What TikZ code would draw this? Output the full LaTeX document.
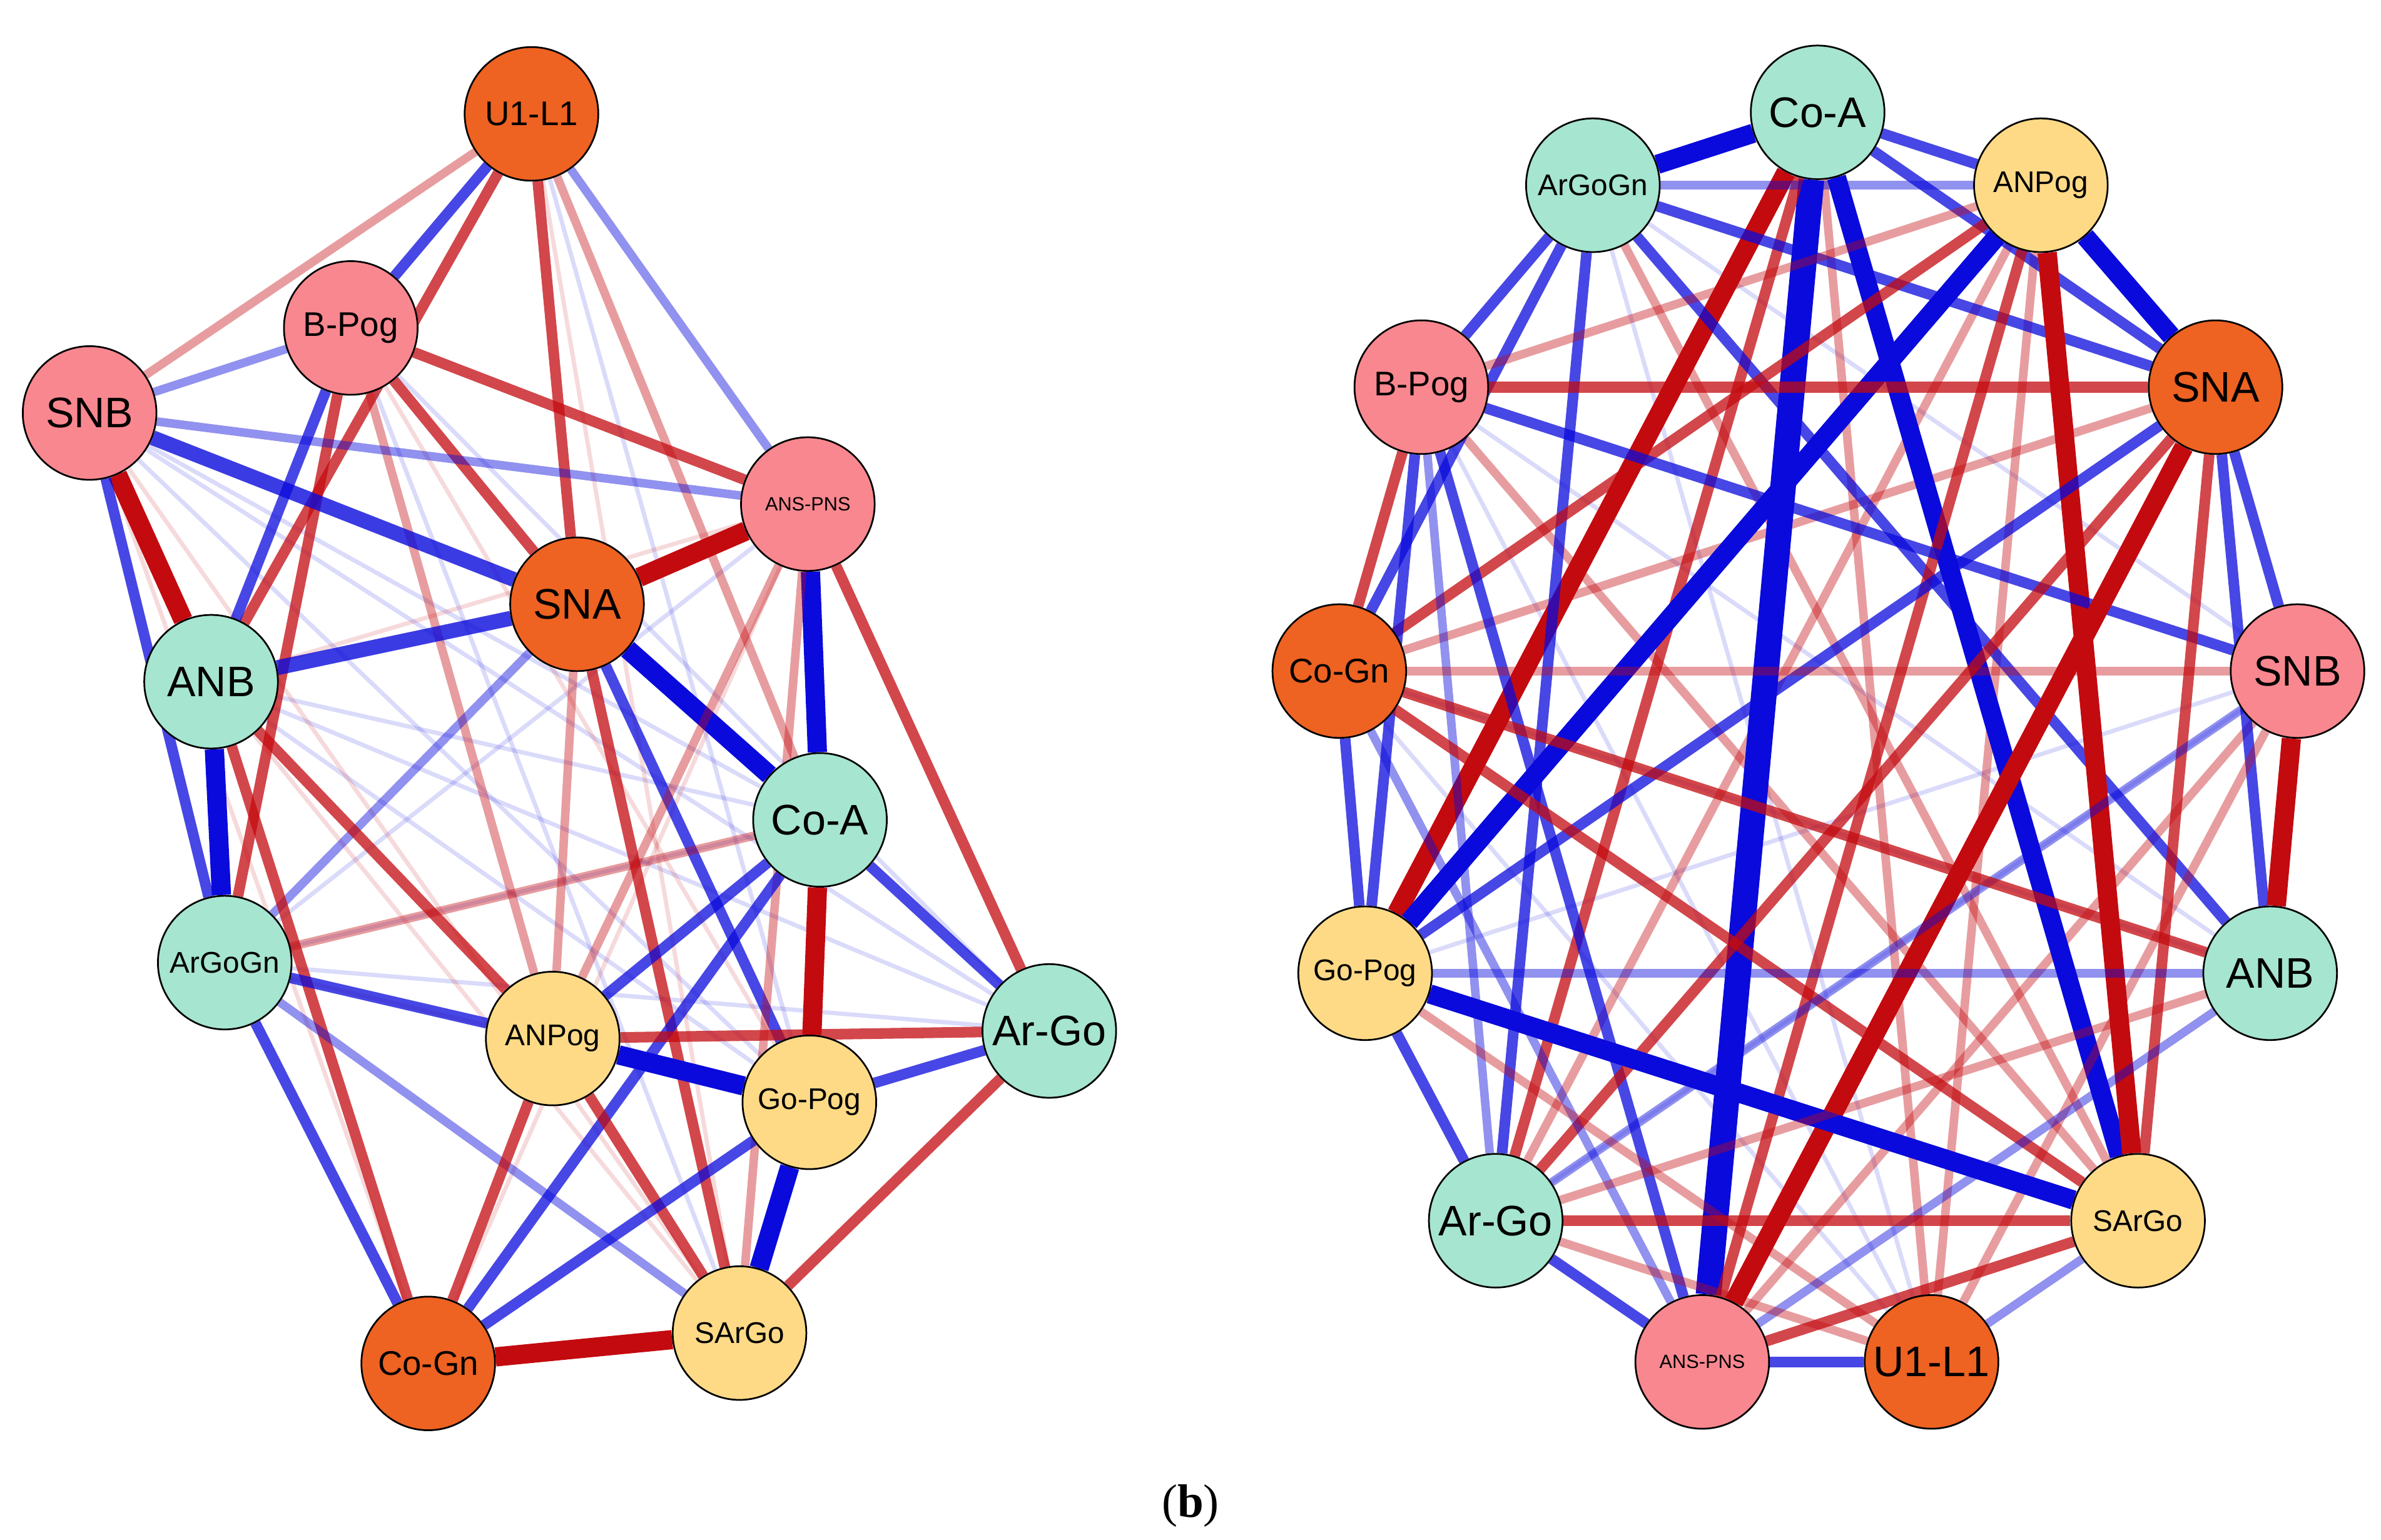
\documentclass[tikz,border=0pt]{standalone}
\usepackage{fontspec}
\setmainfont{Liberation Sans}
\newfontfamily\capfont{Liberation Serif}
\pgfdeclarelayer{bg}\pgfsetlayers{bg,main}
\definecolor{cor}{HTML}{EE6222}\definecolor{cpk}{HTML}{F9878F}
\definecolor{cte}{HTML}{A6E5D0}\definecolor{cye}{HTML}{FEDA87}
\definecolor{eb}{RGB}{10,10,220}\definecolor{er}{RGB}{195,10,15}
\tikzset{nd/.style={circle,draw=black,thick,minimum size=2.2cm,inner sep=0pt,font=\fontsize{16}{16}\selectfont},
big/.style={font=\fontsize{20}{20}\selectfont},sm/.style={font=\fontsize{14}{14}\selectfont},tiny/.style={font=\fontsize{9}{9}\selectfont},
Bs/.style={eb,line width=9pt},Bm/.style={eb,opacity=.75,line width=5pt},Bl/.style={eb,opacity=.45,line width=4pt},Bf/.style={eb,opacity=.15,line width=2pt},
Rs/.style={er,line width=9pt},Rm/.style={er,opacity=.75,line width=5pt},Rl/.style={er,opacity=.4,line width=4pt},Rf/.style={er,opacity=.15,line width=2pt}}
\newcommand\ed[3]{\draw[#1] (#2)--(#3);}
\begin{document}
\begin{tikzpicture}[x=0.025cm,y=-0.025cm]
\useasboundingbox (0,0) rectangle (1568,1014);
% left
\node[nd,fill=cor] (LU) at (350,75) {U1-L1};
\node[nd,fill=cpk] (LB) at (231,216) {B-Pog};
\node[nd,fill=cpk,big] (LSNB) at (59,272) {SNB};
\node[nd,fill=cpk,tiny] (LAP) at (532,332) {ANS-PNS};
\node[nd,fill=cor,big] (LSNA) at (380,398) {SNA};
\node[nd,fill=cte,big] (LANB) at (139,449) {ANB};
\node[nd,fill=cte,big] (LCA) at (540,540) {Co-A};
\node[nd,fill=cte,sm] (LAG) at (148,634) {ArGoGn};
\node[nd,fill=cye,sm] (LANP) at (364,684) {ANPog};
\node[nd,fill=cte,big] (LAR) at (691,679) {Ar-Go};
\node[nd,fill=cye,sm] (LGP) at (533,726) {Go-Pog};
\node[nd,fill=cye,sm] (LSA) at (487,878) {SArGo};
\node[nd,fill=cor] (LCG) at (282,898) {Co-Gn};
% right
\node[nd,fill=cte,big] (RCA) at (1197,74) {Co-A};
\node[nd,fill=cte,sm] (RAG) at (1049,122) {ArGoGn};
\node[nd,fill=cye,sm] (RANP) at (1344,122) {ANPog};
\node[nd,fill=cpk] (RB) at (936,255) {B-Pog};
\node[nd,fill=cor,big] (RSNA) at (1459,255) {SNA};
\node[nd,fill=cor] (RCG) at (882,442) {Co-Gn};
\node[nd,fill=cpk,big] (RSNB) at (1513,442) {SNB};
\node[nd,fill=cye,sm] (RGP) at (899,641) {Go-Pog};
\node[nd,fill=cte,big] (RANB) at (1495,641) {ANB};
\node[nd,fill=cte,big] (RAR) at (985,804) {Ar-Go};
\node[nd,fill=cye,sm] (RSA) at (1408,804) {SArGo};
\node[nd,fill=cpk,tiny] (RAP) at (1121,897) {ANS-PNS};
\node[nd,fill=cor,big] (RU) at (1272,897) {U1-L1};
\node[font=\capfont\fontsize{22}{22}\selectfont] (cap) at (784,992) {(\textbf{b})};
\begin{pgfonlayer}{bg}
% left faint
\foreach \a/\b in {LSNB/LCA,LSNB/LAR,LANB/LAR,LAG/LAR,LB/LAR,LU/LGP,LSNB/LGP,LANB/LGP,LAG/LCA,LB/LSA,LAP/LAG,LANB/LCA}{\draw[Bf] (\a)--(\b);}
\foreach \a/\b in {LSNB/LSA,LANB/LSA,LAG/LGP,LB/LGP,LU/LSA,LAP/LANB,LSNB/LCG,LAP/LCG}{\draw[Rf] (\a)--(\b);}
\ed{Rl}{LU}{LSNB}\ed{Rl}{LU}{LCA}\ed{Bl}{LU}{LAP}\ed{Rm}{LU}{LANB}\ed{Rm}{LU}{LSNA}\ed{Bm}{LU}{LB}
\ed{Rm}{LB}{LSNA}\ed{Bm}{LB}{LANB}\ed{Rm}{LB}{LAP}\ed{Rm}{LB}{LAG}\ed{Bl}{LB}{LSNB}\ed{Rl}{LB}{LANP}
\ed{Rs}{LSNB}{LANB}\draw[eb,opacity=.8,line width=7pt] (LSNB)--(LSNA);\ed{Bl}{LSNB}{LAP}\ed{Bm}{LSNB}{LAG}
\ed{Rs}{LSNA}{LAP}\ed{Bs}{LSNA}{LCA}\draw[eb,opacity=.8,line width=7pt] (LANB)--(LSNA);\ed{Bm}{LSNA}{LGP}\ed{Rm}{LSNA}{LSA}\ed{Rl}{LSNA}{LANP}\ed{Bl}{LSNA}{LAG}
\ed{Bs}{LAP}{LCA}\ed{Rl}{LAP}{LSA}\ed{Rm}{LAP}{LAR}\ed{Rl}{LAP}{LANP}
\ed{Bs}{LANB}{LAG}\ed{Rm}{LANB}{LCG}\ed{Rm}{LANB}{LANP}
\ed{Rs}{LCA}{LGP}\ed{Bm}{LCA}{LAR}\ed{Bm}{LCA}{LANP}\ed{Bm}{LCA}{LCG}\ed{Rl}{LCA}{LAG}
\ed{Bm}{LAG}{LANP}\ed{Bm}{LAG}{LCG}\ed{Bl}{LAG}{LSA}
\ed{Rm}{LANP}{LAR}\ed{Bs}{LANP}{LGP}\ed{Rm}{LANP}{LSA}\ed{Rm}{LANP}{LCG}
\ed{Bm}{LGP}{LAR}\ed{Bs}{LGP}{LSA}\ed{Bm}{LGP}{LCG}\ed{Rm}{LAR}{LSA}\ed{Rs}{LCG}{LSA}
% right faint
\foreach \a/\b in {RAG/RSNB,RB/RANB,RCG/RANB,RB/RU,RGP/RSNB,RAG/RU,RAR/RSNB,RCG/RU}{\draw[Bf] (\a)--(\b);}
\foreach \a/\b in {RANP/RAR,RAG/RSA,RB/RSA,RCG/RSNA,RAP/RSNB,RANP/RU,RCA/RU}{\draw[Rl] (\a)--(\b);}
\ed{Bs}{RCA}{RAG}\ed{Bm}{RCA}{RANP}\ed{Bm}{RCA}{RSNA}\ed{Rs}{RCA}{RGP}\ed{Bs}{RCA}{RSA}
\draw[eb,line width=12pt] (RCA)--(RAP);\ed{Rm}{RCA}{RAR}
\ed{Bm}{RAG}{RB}\ed{Bm}{RAG}{RANB}\ed{Bm}{RAG}{RAR}\ed{Bm}{RAG}{RCG}\ed{Bl}{RAG}{RANP}\ed{Bm}{RAG}{RSNA}
\ed{Bs}{RANP}{RGP}\ed{Rs}{RANP}{RSA}\ed{Bs}{RANP}{RSNA}\ed{Rm}{RANP}{RCG}\ed{Rm}{RANP}{RAP}\ed{Rl}{RANP}{RB}
\ed{Rm}{RB}{RSNA}\ed{Bm}{RB}{RSNB}\ed{Bm}{RB}{RGP}\ed{Bm}{RB}{RAP}\ed{Rm}{RB}{RCG}\ed{Bl}{RB}{RAR}
\ed{Rs}{RSNA}{RAP}\ed{Bm}{RSNA}{RSNB}\ed{Bm}{RSNA}{RANB}\ed{Rm}{RSNA}{RAR}\ed{Bm}{RSNA}{RGP}\ed{Rm}{RSNA}{RSA}
\ed{Rm}{RCG}{RSA}\ed{Bm}{RCG}{RGP}\ed{Rl}{RCG}{RSNB}\ed{Bl}{RCG}{RAP}
\ed{Rs}{RSNB}{RANB}\ed{Bl}{RSNB}{RAR}\ed{Rl}{RSNB}{RU}
\ed{Bs}{RGP}{RSA}\ed{Bm}{RGP}{RAR}\ed{Bl}{RGP}{RANB}\ed{Rl}{RGP}{RU}
\ed{Bl}{RANB}{RAP}\ed{Rm}{RANB}{RCG}\ed{Rl}{RANB}{RAR}
\ed{Rm}{RAR}{RSA}\ed{Bm}{RAR}{RAP}\ed{Rl}{RAR}{RU}
\ed{Rm}{RSA}{RAP}\ed{Bl}{RSA}{RU}\ed{Bm}{RAP}{RU}
\end{pgfonlayer}
\end{tikzpicture}
\end{document}
